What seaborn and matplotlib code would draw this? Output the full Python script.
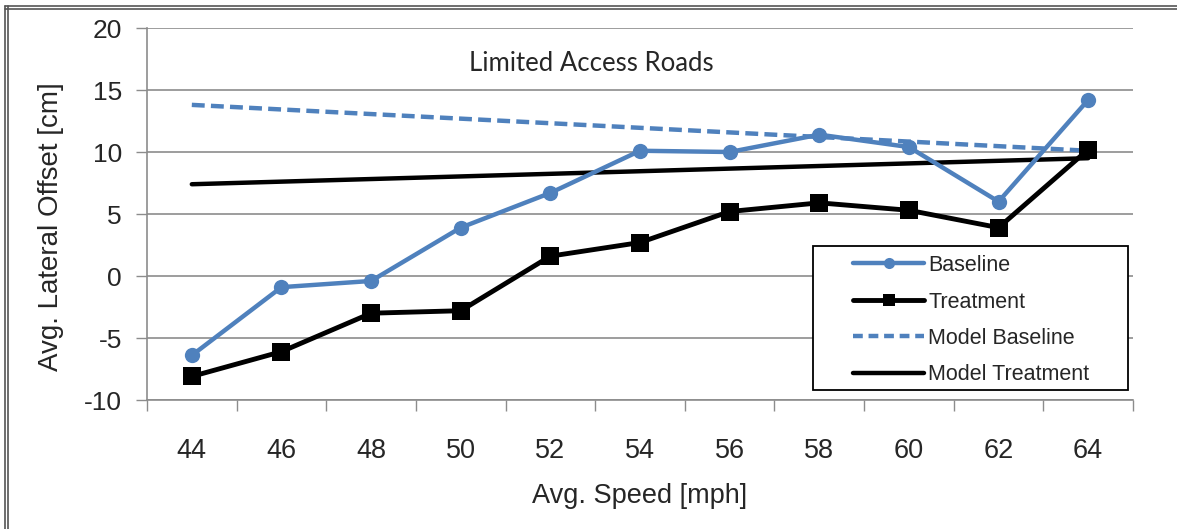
import matplotlib
matplotlib.use("Agg")
import matplotlib.pyplot as plt
from matplotlib.lines import Line2D
from matplotlib.patches import Rectangle
import seaborn as sns
import pandas as pd

# Average speed bins (mph)
speeds = [44, 46, 48, 50, 52, 54, 56, 58, 60, 62, 64]
# Observed average lateral offsets (cm)
baseline = [-6.4, -0.9, -0.4, 3.9, 6.7, 10.1, 10.0, 11.4, 10.4, 6.0, 14.2]
treatment = [-8.1, -6.1, -3.0, -2.8, 1.6, 2.7, 5.2, 5.9, 5.3, 3.9, 10.2]
# Fitted model lines (end points over the speed range)
model_speeds = [44, 64]
model_baseline = [13.8, 10.1]
model_treatment = [7.4, 9.5]

title = "Limited Access Roads"
xlabel = "Avg. Speed [mph]"
ylabel = "Avg. Lateral Offset [cm]"
yticks = [-10, -5, 0, 5, 10, 15, 20]

sns.set_theme(style="white")
plt.rcParams["font.family"] = ["Liberation Sans", "DejaVu Sans"]

BLUE = "#4F81BD"
GRID = "#8C8C8C"
DASH = (0, (2.9, 1.4))

fig = plt.figure(figsize=(11.77, 5.29), dpi=100)
ax = fig.add_axes([147 / 1177, 1 - 400 / 529, (1133 - 147) / 1177, (400 - 28) / 529])

obs = pd.DataFrame({"speed": speeds, "Baseline": baseline, "Treatment": treatment})
mod = pd.DataFrame({"speed": model_speeds, "Model Baseline": model_baseline,
                    "Model Treatment": model_treatment})

sns.lineplot(data=mod, x="speed", y="Model Baseline", ax=ax, color=BLUE,
             linewidth=3.2, linestyle=DASH, zorder=3)
sns.lineplot(data=mod, x="speed", y="Model Treatment", ax=ax, color="black",
             linewidth=3.2, zorder=3)
sns.lineplot(data=obs, x="speed", y="Baseline", ax=ax, color=BLUE, linewidth=3.2,
             marker="o", markersize=11, markeredgewidth=0, zorder=4)
sns.lineplot(data=obs, x="speed", y="Treatment", ax=ax, color="black", linewidth=3.5,
             marker="s", markersize=13, markeredgewidth=0, zorder=5)

ax.set_xlim(speeds[0] - 1, speeds[-1] + 1)
ax.set_ylim(yticks[0], yticks[-1])
ax.set_yticks(yticks)
ax.set_yticklabels([str(v) for v in yticks])
# Tick marks sit between categories, labels at the category centres
ax.set_xticks([s - 1 for s in speeds] + [speeds[-1] + 1])
ax.set_xticklabels([])
ax.set_xticks(speeds, minor=True)
ax.set_xticklabels([str(s) for s in speeds], minor=True)
ax.tick_params(axis="x", which="major", direction="out", length=8, width=1,
               color=GRID, bottom=True)
ax.tick_params(axis="x", which="minor", length=0, pad=27, labelsize=19.5)
ax.tick_params(axis="y", direction="out", length=8, width=1, color=GRID,
               left=True, pad=10, labelsize=19)

ax.grid(axis="y", color=GRID, linewidth=1.2)
ax.grid(axis="x", visible=False)
for side in ("top", "right"):
    ax.spines[side].set_visible(False)
for side in ("left", "bottom"):
    ax.spines[side].set_color(GRID)
    ax.spines[side].set_linewidth(1.2)

ax.set_xlabel(xlabel, fontsize=19.5, labelpad=14)
ax.set_ylabel(ylabel, fontsize=20)
ax.yaxis.set_label_coords((64 - 147) / 986, 0.465)
ax.text(0.451, 0.905, title, transform=ax.transAxes, ha="center", va="center",
        fontsize=18.5, family=["Lato", "DejaVu Sans"])

handles = [
    Line2D([], [], color=BLUE, linewidth=3.2, marker="o", markersize=8, markeredgewidth=0),
    Line2D([], [], color="black", linewidth=3.5, marker="s", markersize=8.5, markeredgewidth=0),
    Line2D([], [], color=BLUE, linewidth=3.2, linestyle=(0, (2.2, 1.3))),
    Line2D([], [], color="black", linewidth=3.2),
]
labels = ["Baseline", "Treatment", "Model Baseline", "Model Treatment"]
leg = ax.legend(handles, labels, loc="upper left",
                bbox_to_anchor=((853 - 147) / 986, (400 - 255) / 372),
                fontsize=15.5, frameon=False, handlelength=3.3, handletextpad=0.2,
                labelspacing=0.72, borderpad=0, borderaxespad=0)
leg.set_zorder(7)
# Legend box
ax.add_patch(Rectangle(((813 - 147) / 986, (400 - 390) / 372), (1128 - 813) / 986,
                       (390 - 246) / 372, transform=ax.transAxes, facecolor="white",
                       edgecolor="black", linewidth=1.3, zorder=6))

# Double outer frame of the figure
for x in (5 / 1177, 8 / 1177):
    fig.add_artist(Line2D([x, x], [0, 1 - 6 / 529], transform=fig.transFigure,
                          color="#555555", linewidth=1.2))
for y in (1 - 6 / 529, 1 - 9 / 529):
    fig.add_artist(Line2D([5 / 1177, 1], [y, y], transform=fig.transFigure,
                          color="#555555", linewidth=1.2))

fig.savefig("out.png", dpi=100)
